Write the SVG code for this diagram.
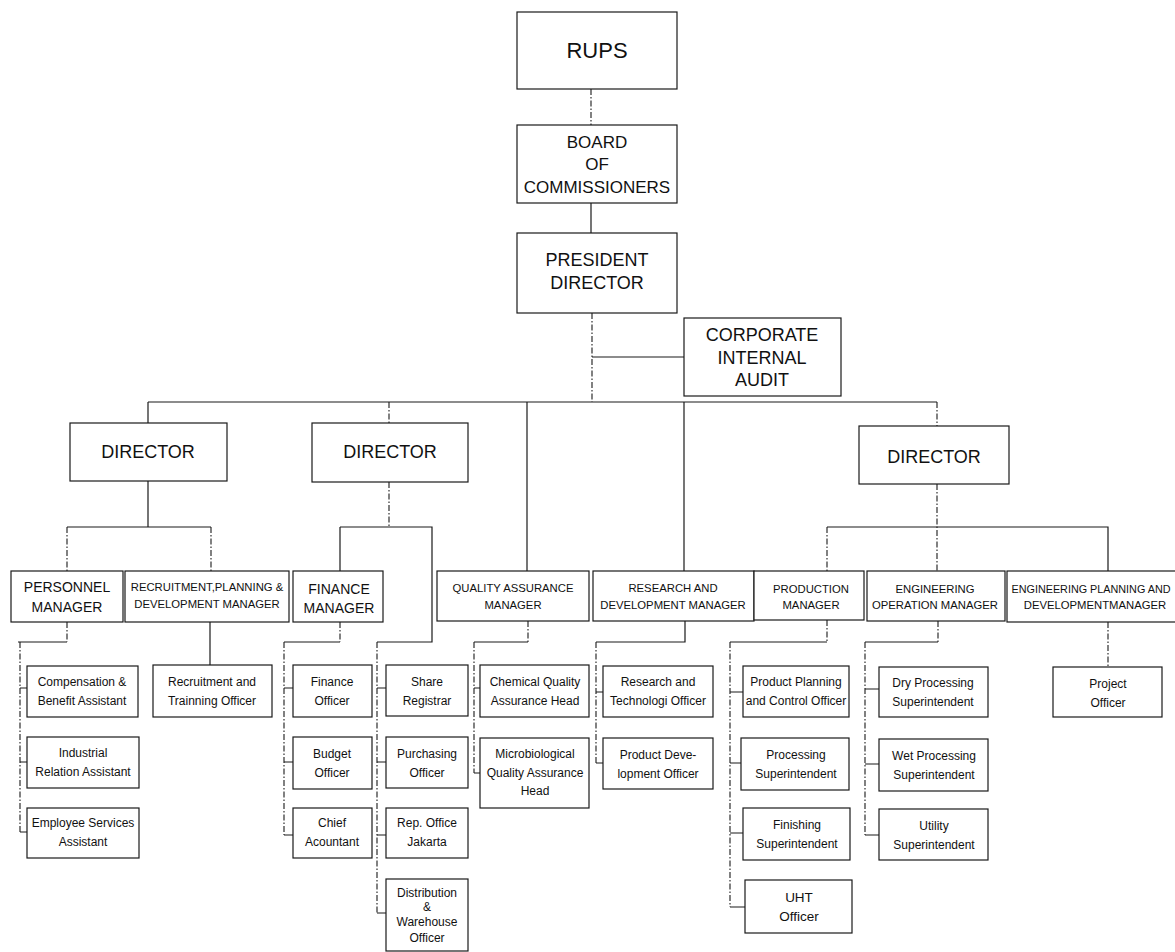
<svg xmlns="http://www.w3.org/2000/svg" width="1175" height="952" viewBox="0 0 1175 952">
<style>
  .bx{fill:#fff;stroke:#1a1a1a;stroke-width:1.2}
  .s{fill:none;stroke:#1a1a1a;stroke-width:1.2}
  .d{fill:none;stroke:#1a1a1a;stroke-width:1.1;stroke-dasharray:6 2 1.5 2}
  text{font-family:"Liberation Sans",Arial,Helvetica,sans-serif;fill:#111;text-anchor:middle}
  .t21{font-size:22px}
  .t18{font-size:18px}
  .t17{font-size:17px}
  .t14{font-size:14px}
  .t11{font-size:11.3px}
  .t10{font-size:10.8px}
  .t12{font-size:12px}
  .t13{font-size:13.5px}
</style>
<rect width="1175" height="952" fill="#fff"/>
<g id="connectors">
  <path class="d" d="M591 89V125"/>
  <path class="s" d="M591 203V233"/>
  <path class="d" d="M592 313V402"/>
  <path class="s" d="M592 357H684"/>
  <path class="s" d="M148 402H937"/>
  <path class="s" d="M148 402V423"/>
  <path class="d" d="M389 402V423"/>
  <path class="s" d="M527 402V571"/>
  <path class="s" d="M684 402V571"/>
  <path class="d" d="M937 402V426"/>
  <path class="s" d="M148 481V527M67 527H211"/>
  <path class="d" d="M67 527V571M211 527V571"/>
  <path class="d" d="M389 482V527"/>
  <path class="s" d="M340 527H432V642H377"/>
  <path class="s" d="M340 527V571"/>
  <path class="d" d="M937 484V571"/>
  <path class="s" d="M827 527H1108V571"/>
  <path class="d" d="M827 527V571"/>
  <path class="d" d="M67 622V642"/>
  <path class="s" d="M67 642H18"/>
  <path class="d" d="M20 642V832"/>
  <path class="s" d="M20 688H27M20 762H27M20 832H27"/>
  <path class="s" d="M210 622V665"/>
  <path class="d" d="M340 622V642"/>
  <path class="s" d="M340 642H284"/>
  <path class="d" d="M284 642V835"/>
  <path class="s" d="M284 688H293M284 762H293M284 835H293"/>
  <path class="d" d="M377 642V913"/>
  <path class="s" d="M377 688H386M377 762H386M377 835H386M377 913H386"/>
  <path class="d" d="M528 621V642"/>
  <path class="s" d="M528 642H474"/>
  <path class="d" d="M474 642V773"/>
  <path class="s" d="M474 688H480M474 773H480"/>
  <path class="s" d="M685 621V642H596"/>
  <path class="d" d="M596 642V763"/>
  <path class="s" d="M596 692H603M596 763H603"/>
  <path class="d" d="M827 620V642"/>
  <path class="s" d="M827 642H730"/>
  <path class="d" d="M730 642V907"/>
  <path class="s" d="M730 692H743M730 763H741M730 833H743M730 907H745"/>
  <path class="d" d="M938 621V642"/>
  <path class="s" d="M938 642H865"/>
  <path class="d" d="M865 642V835"/>
  <path class="s" d="M865 689H879M865 764H879M865 835H879"/>
  <path class="d" d="M1108 622V667"/>
</g>

<g id="rups"><rect class="bx" x="517" y="12" width="160" height="77"/><text class="t21" x="597" y="58">RUPS</text></g>
<g id="board"><rect class="bx" x="517" y="125" width="160" height="78"/>
  <text class="t17" x="597" y="148">BOARD</text><text class="t17" x="597" y="170">OF</text><text class="t17" x="597" y="193">COMMISSIONERS</text></g>
<g id="president"><rect class="bx" x="517" y="233" width="160" height="80"/>
  <text class="t18" x="597" y="266">PRESIDENT</text><text class="t18" x="597" y="289">DIRECTOR</text></g>
<g id="audit"><rect class="bx" x="684" y="318" width="157" height="78"/>
  <text class="t18" x="762" y="341">CORPORATE</text><text class="t18" x="762" y="364">INTERNAL</text><text class="t18" x="762" y="386">AUDIT</text></g>

<g id="director1"><rect class="bx" x="70" y="423" width="157" height="58"/><text class="t18" x="148" y="458">DIRECTOR</text></g>
<g id="director2"><rect class="bx" x="312" y="423" width="156" height="59"/><text class="t18" x="390" y="458">DIRECTOR</text></g>
<g id="director3"><rect class="bx" x="859" y="426" width="150" height="58"/><text class="t18" x="934" y="463">DIRECTOR</text></g>

<g id="personnel"><rect class="bx" x="11" y="571" width="112" height="51"/>
  <text class="t14" x="67" y="592">PERSONNEL</text><text class="t14" x="67" y="612">MANAGER</text></g>
<g id="recruitment"><rect class="bx" x="125" y="571" width="164" height="51"/>
  <text class="t11" x="207" y="591">RECRUITMENT,PLANNING &amp;</text><text class="t11" x="207" y="608">DEVELOPMENT MANAGER</text></g>
<g id="finance"><rect class="bx" x="293" y="571" width="90" height="51"/>
  <text class="t14" x="339" y="594">FINANCE</text><text class="t14" x="339" y="613">MANAGER</text></g>
<g id="qa"><rect class="bx" x="437" y="571" width="152" height="50"/>
  <text class="t11" x="513" y="592">QUALITY ASSURANCE</text><text class="t11" x="513" y="609">MANAGER</text></g>
<g id="rnd"><rect class="bx" x="593" y="571" width="161" height="50"/>
  <text class="t11" x="673" y="592">RESEARCH AND</text><text class="t11" x="673" y="609">DEVELOPMENT MANAGER</text></g>
<g id="production"><rect class="bx" x="754" y="571" width="110" height="49"/>
  <text class="t11" x="811" y="593">PRODUCTION</text><text class="t11" x="811" y="609">MANAGER</text></g>
<g id="engop"><rect class="bx" x="867" y="571" width="138" height="50"/>
  <text class="t11" x="935" y="593">ENGINEERING</text><text class="t11" x="935" y="609">OPERATION MANAGER</text></g>
<g id="engplan"><rect class="bx" x="1007" y="571" width="180" height="51"/>
  <text class="t10" x="1091" y="593">ENGINEERING PLANNING AND</text><text class="t11" x="1095" y="609">DEVELOPMENTMANAGER</text></g>

<g id="comp"><rect class="bx" x="27" y="666" width="111" height="51"/>
  <text class="t12" x="82" y="686">Compensation &amp;</text><text class="t12" x="82" y="705">Benefit Assistant</text></g>
<g id="industrial"><rect class="bx" x="27" y="737" width="112" height="51"/>
  <text class="t12" x="83" y="757">Industrial</text><text class="t12" x="83" y="776">Relation Assistant</text></g>
<g id="employee"><rect class="bx" x="27" y="808" width="112" height="50"/>
  <text class="t12" x="83" y="827">Employee Services</text><text class="t12" x="83" y="846">Assistant</text></g>

<g id="recofficer"><rect class="bx" x="153" y="665" width="119" height="52"/>
  <text class="t12" x="212" y="686">Recruitment and</text><text class="t12" x="212" y="705">Trainning Officer</text></g>

<g id="finofficer"><rect class="bx" x="293" y="665" width="79" height="52"/>
  <text class="t12" x="332" y="686">Finance</text><text class="t12" x="332" y="705">Officer</text></g>
<g id="budget"><rect class="bx" x="293" y="737" width="79" height="52"/>
  <text class="t12" x="332" y="758">Budget</text><text class="t12" x="332" y="777">Officer</text></g>
<g id="chief"><rect class="bx" x="293" y="808" width="79" height="50"/>
  <text class="t12" x="332" y="827">Chief</text><text class="t12" x="332" y="846">Acountant</text></g>

<g id="share"><rect class="bx" x="386" y="665" width="82" height="51"/>
  <text class="t12" x="427" y="686">Share</text><text class="t12" x="427" y="705">Registrar</text></g>
<g id="purchasing"><rect class="bx" x="386" y="737" width="82" height="51"/>
  <text class="t12" x="427" y="758">Purchasing</text><text class="t12" x="427" y="777">Officer</text></g>
<g id="repoffice"><rect class="bx" x="386" y="808" width="82" height="50"/>
  <text class="t12" x="427" y="827">Rep. Office</text><text class="t12" x="427" y="846">Jakarta</text></g>
<g id="distribution"><rect class="bx" x="386" y="879" width="82" height="72"/>
  <text class="t12" x="427" y="897">Distribution</text><text class="t12" x="427" y="911">&amp;</text><text class="t12" x="427" y="926">Warehouse</text><text class="t12" x="427" y="942">Officer</text></g>

<g id="chemical"><rect class="bx" x="480" y="665" width="109" height="52"/>
  <text class="t12" x="535" y="686">Chemical Quality</text><text class="t12" x="535" y="705">Assurance Head</text></g>
<g id="micro"><rect class="bx" x="480" y="738" width="109" height="70"/>
  <text class="t12" x="535" y="758">Microbiological</text><text class="t12" x="535" y="777">Quality Assurance</text><text class="t12" x="535" y="795">Head</text></g>

<g id="research"><rect class="bx" x="603" y="666" width="110" height="51"/>
  <text class="t12" x="658" y="686">Research and</text><text class="t12" x="658" y="705">Technologi Officer</text></g>
<g id="productdev"><rect class="bx" x="603" y="738" width="110" height="51"/>
  <text class="t12" x="658" y="759">Product Deve-</text><text class="t12" x="658" y="778">lopment Officer</text></g>

<g id="planning"><rect class="bx" x="743" y="666" width="106" height="51"/>
  <text class="t12" x="796" y="686">Product Planning</text><text class="t12" x="796" y="705">and Control Officer</text></g>
<g id="processing"><rect class="bx" x="741" y="738" width="108" height="52"/>
  <text class="t12" x="796" y="759">Processing</text><text class="t12" x="796" y="778">Superintendent</text></g>
<g id="finishing"><rect class="bx" x="743" y="808" width="107" height="52"/>
  <text class="t12" x="797" y="829">Finishing</text><text class="t12" x="797" y="848">Superintendent</text></g>
<g id="uht"><rect class="bx" x="745" y="880" width="107" height="53"/>
  <text class="t13" x="799" y="902">UHT</text><text class="t13" x="799" y="921">Officer</text></g>

<g id="dry"><rect class="bx" x="879" y="667" width="109" height="50"/>
  <text class="t12" x="933" y="687">Dry Processing</text><text class="t12" x="933" y="706">Superintendent</text></g>
<g id="wet"><rect class="bx" x="879" y="739" width="109" height="52"/>
  <text class="t12" x="934" y="760">Wet Processing</text><text class="t12" x="934" y="779">Superintendent</text></g>
<g id="utility"><rect class="bx" x="879" y="809" width="109" height="51"/>
  <text class="t12" x="934" y="830">Utility</text><text class="t12" x="934" y="849">Superintendent</text></g>

<g id="project"><rect class="bx" x="1053" y="667" width="109" height="50"/>
  <text class="t12" x="1108" y="688">Project</text><text class="t12" x="1108" y="707">Officer</text></g>
</svg>
